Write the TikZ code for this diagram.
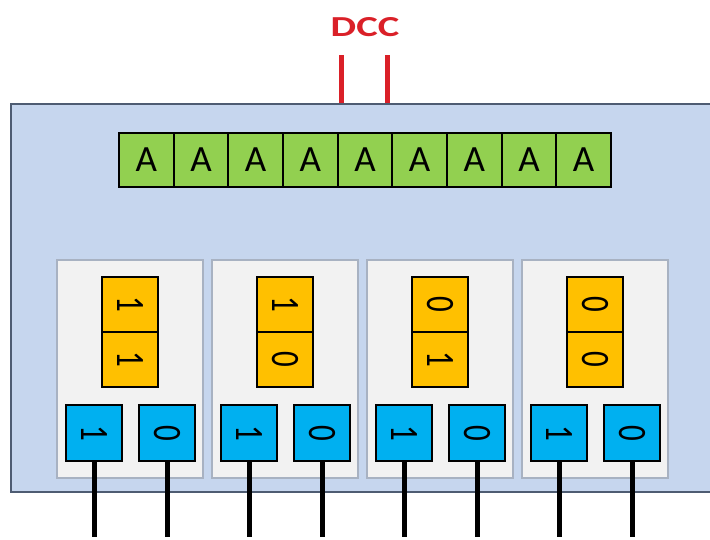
\documentclass[tikz,border=0pt]{standalone}
\usepackage{fontspec}
\setmainfont{Carlito}
\usepackage{graphicx}
\usepackage{tikz}
\usetikzlibrary{positioning}
\definecolor{chipblue}{RGB}{198,214,238}
\definecolor{chipframe}{RGB}{78,92,114}
\definecolor{cellgreen}{RGB}{146,208,80}
\definecolor{bitorange}{RGB}{255,192,0}
\definecolor{pinblue}{RGB}{0,176,240}
\definecolor{panelgray}{RGB}{242,242,242}
\definecolor{paneledge}{RGB}{168,178,194}
\definecolor{dccred}{RGB}{218,32,40}
\newcommand{\bitlabel}[1]{\scalebox{1.3}[1]{\rotatebox{-90}{#1}}}

\begin{document}
\begin{tikzpicture}[x=1pt, y=-1pt,
chip/.style={draw=chipframe, line width=1.8pt, fill=chipblue,
minimum width=719pt, minimum height=388pt, inner sep=0pt},
cell/.style={draw=black, line width=2pt, fill=cellgreen,
minimum width=54.67pt, minimum height=54pt, inner sep=0pt,
font=\fontsize{37}{37}\selectfont},
panel/.style={draw=paneledge, line width=1.8pt, fill=panelgray,
minimum width=146pt, minimum height=218pt, inner sep=0pt},
bit/.style={draw=black, line width=2pt, fill=bitorange,
minimum width=56pt, minimum height=55pt, inner sep=0pt,
font=\fontsize{31}{31}\selectfont},
pin/.style={draw=black, line width=2pt, fill=pinblue,
minimum size=56pt, inner sep=0pt, font=\fontsize{31}{31}\selectfont},
lead/.style={line width=5pt, draw=black},
dccline/.style={line width=5pt, draw=dccred}
]
\useasboundingbox (0,0) rectangle (710,539);
\clip (0,0) rectangle (710,539);

\node[chip] (chip) at (370.5,298) {};

% decoder row
\foreach \k in {1,...,9}
\node[cell] (a\k) at ({119+54.67*(\k-0.5)},159.5) {A};

% DCC input
\node[font=\fontsize{29}{29}\selectfont\bfseries, text=dccred] (dcc) at (365,27)
{\scalebox{1.4}[1]{DCC}};
\coordinate (dccL) at (341,55);
\coordinate (dccR) at (387,55);
\draw[dccline] (dccL) -- (dccL |- chip.north);
\draw[dccline] (dccR) -- (dccR |- chip.north);

\coordinate (foot) at (0,537);

% output blocks
\foreach \i/\hi/\lo in {1/1/1, 2/1/0, 3/0/1, 4/0/0} {
\node[panel] (p\i) at ({130+155*(\i-1)},369) {};
\node[bit] (bh\i) at ({130+155*(\i-1)},304.5) {\bitlabel{\hi}};
\node[bit] (bl\i) at ({130+155*(\i-1)},359.5) {\bitlabel{\lo}};
\node[pin] (pl\i) at ({94+155*(\i-1)},433) {\bitlabel{1}};
\node[pin] (pr\i) at ({167+155*(\i-1)},433) {\bitlabel{0}};
\draw[lead] (pl\i.south) -- (pl\i |- foot);
\draw[lead] (pr\i.south) -- (pr\i |- foot);
}

\end{tikzpicture}
\end{document}
